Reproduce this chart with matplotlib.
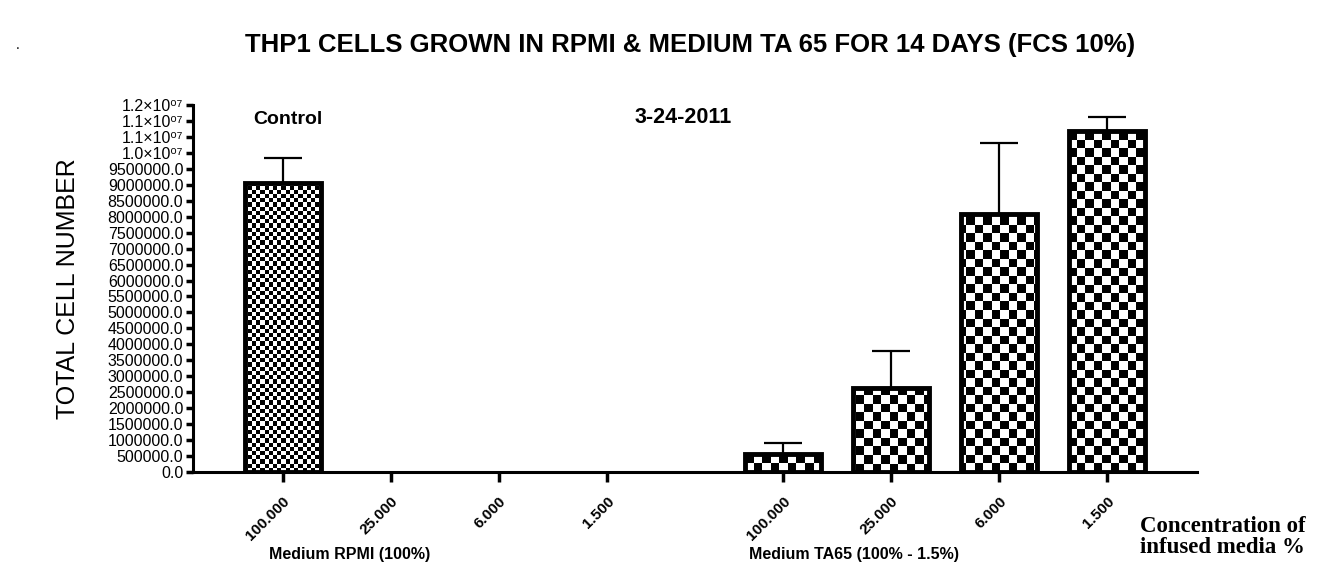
import numpy as np
import matplotlib
matplotlib.use("Agg")
import matplotlib.pyplot as plt
from matplotlib.ticker import FixedLocator, FuncFormatter

plt.rcParams["font.family"] = ["Liberation Sans", "DejaVu Sans"]

# data
conc_labels = ["100.000", "25.000", "6.000", "1.500"]
rpmi_values = [9.06e6, 0, 0, 0]
rpmi_err = [0.78e6, 0, 0, 0]
ta65_values = [0.56e6, 2.63e6, 8.09e6, 10.69e6]
ta65_err = [0.35e6, 1.16e6, 2.22e6, 0.44e6]

title = "THP1 CELLS GROWN IN RPMI & MEDIUM TA 65 FOR 14 DAYS (FCS 10%)"
subtitle = "3-24-2011"
group_labels = ["Medium RPMI (100%)", "Medium TA65 (100% - 1.5%)"]

# layout
pos1 = np.arange(4)
pos2 = np.arange(4) + 4.63
bar_w = 0.7

fig = plt.figure(figsize=(13.35, 5.7), dpi=100)
ax = fig.add_axes([0.1446, 0.1719, 0.7520, 0.6439])
ax.set_xlim(-0.83, 8.46)
ax.set_ylim(0, 1.15e7)


def checker(ax, patch, cell_px):
    # checkerboard image clipped to the bar
    bb = ax.get_window_extent()
    nx = int(bb.width / cell_px) + 1
    ny = int(bb.height / cell_px) + 1
    img = (np.add.outer(np.arange(ny), np.arange(nx)) % 2).astype(float)
    x0, x1 = ax.get_xlim()
    y0, y1 = ax.get_ylim()
    x1 = x0 + nx * cell_px / bb.width * (x1 - x0)
    y1 = y0 + ny * cell_px / bb.height * (y1 - y0)
    im = ax.imshow(img, cmap="gray", extent=[x0, x1, y0, y1], origin="lower",
                   interpolation="nearest", aspect="auto", zorder=1)
    im.set_clip_path(patch)


bars1 = ax.bar(pos1, rpmi_values, bar_w, facecolor="none", edgecolor="black",
               linewidth=3.5, zorder=3)
bars2 = ax.bar(pos2, ta65_values, bar_w, facecolor="none", edgecolor="black",
               linewidth=3.5, zorder=3)
for b, v in zip(bars1, rpmi_values):
    if v > 0:
        checker(ax, b, 4.2)
    else:
        b.set_linewidth(0)
for b in bars2:
    checker(ax, b, 8.5)
ax.set_xlim(-0.83, 8.46)
ax.set_ylim(0, 1.15e7)

for pos, vals, errs in [(pos1, rpmi_values, rpmi_err), (pos2, ta65_values, ta65_err)]:
    for p, v, e in zip(pos, vals, errs):
        if v > 0:
            ax.errorbar(p, v, yerr=[[0], [e]], fmt="none", ecolor="black",
                        elinewidth=1.6, capsize=13.5, capthick=1.6, zorder=4)

# axes style
for s in ["top", "right"]:
    ax.spines[s].set_visible(False)
for s in ["left", "bottom"]:
    ax.spines[s].set_linewidth(2.2)

yt = np.arange(0, 1.15e7 + 1, 5e5)
ax.yaxis.set_major_locator(FixedLocator(yt))


def yfmt(v, pos):
    if v < 1e7 - 1:
        return f"{v:.1f}"
    return f"{v / 1e7 + 1e-9:.1f}×10⁰⁷"


ax.yaxis.set_major_formatter(FuncFormatter(yfmt))
ax.tick_params(axis="y", direction="out", length=5, width=2.5, labelsize=11.5, pad=2)
ax.set_xticks(np.concatenate([pos1, pos2]))
ax.set_xticklabels(conc_labels + conc_labels, rotation=45, ha="right",
                   rotation_mode="anchor", fontsize=11, fontweight="bold")
ax.tick_params(axis="x", direction="out", length=7, width=2.5, pad=9)

ax.set_ylabel("TOTAL CELL NUMBER", fontsize=18, labelpad=20)

ax.text(0.05, 1.105e7, "Control", fontsize=14, fontweight="bold", ha="center", va="center")

fig.text(0.517, 0.921, title, fontsize=18.5, fontweight="bold", ha="center", va="center")
fig.text(0.512, 0.793, subtitle, fontsize=15.5, fontweight="bold", ha="center", va="center")
fig.text(0.0135, 0.921, ".", fontsize=10, ha="center", va="center")

fig.text(0.262, 0.027, group_labels[0], fontsize=11.5, fontweight="bold", ha="center", va="center")
fig.text(0.640, 0.027, group_labels[1], fontsize=11.5, fontweight="bold", ha="center", va="center")
fig.text(0.854, 0.058, "Concentration of\ninfused media %", fontsize=16.5, fontweight="bold",
         family=["Liberation Serif", "DejaVu Serif"], ha="left", va="center", linespacing=1.05)

fig.savefig("out.png", dpi=100)
